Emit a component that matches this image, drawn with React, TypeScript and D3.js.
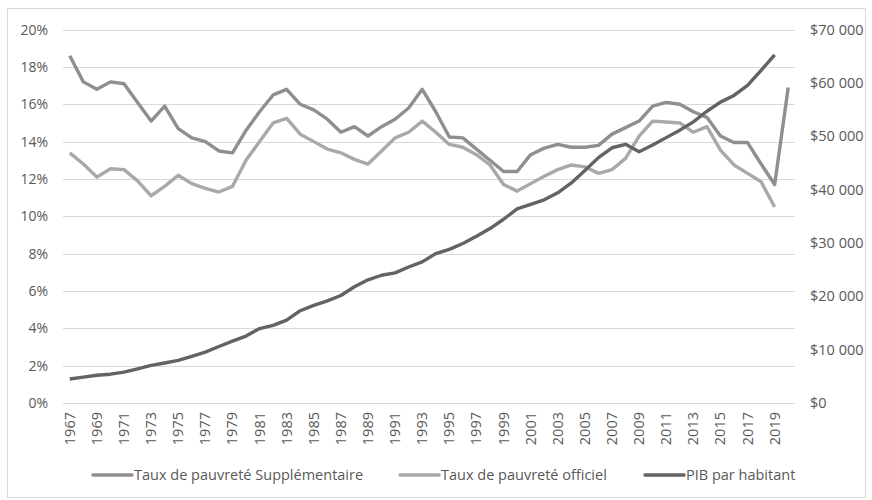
import * as d3 from "d3";
import { useEffect, useRef } from "react";

const years = d3.range(1967, 2021);

// Taux de pauvreté Supplémentaire (%)
const supplementaire = [
  18.6, 17.2, 16.8, 17.2, 17.1, 16.1, 15.1, 15.9, 14.7, 14.2,
  14.0, 13.5, 13.4, 14.6, 15.6, 16.5, 16.8, 16.0, 15.7, 15.2,
  14.5, 14.8, 14.3, 14.8, 15.2, 15.8, 16.8, 15.6, 14.25, 14.2,
  13.6, 13.0, 12.4, 12.4, 13.3, 13.65, 13.85, 13.7, 13.7, 13.8,
  14.4, 14.75, 15.1, 15.9, 16.1, 16.0, 15.6, 15.3, 14.3, 13.95,
  13.95, 12.8, 11.7, 16.9,
];

// Taux de pauvreté officiel (%)
const officiel = [
  13.4, 12.8, 12.1, 12.55, 12.5, 11.9, 11.1, 11.6, 12.2, 11.75,
  11.5, 11.3, 11.6, 13.0, 14.0, 15.0, 15.25, 14.4, 14.0, 13.6,
  13.4, 13.05, 12.8, 13.5, 14.2, 14.5, 15.1, 14.5, 13.85, 13.7,
  13.3, 12.75, 11.7, 11.35, 11.75, 12.15, 12.5, 12.75, 12.65, 12.3,
  12.5, 13.1, 14.3, 15.1, 15.05, 15.0, 14.5, 14.8, 13.55, 12.75,
  12.3, 11.85, 10.5, null,
];

// PIB par habitant ($)
const pib = [
  4500, 4850, 5200, 5400, 5800, 6400, 7050, 7500, 8000, 8750,
  9550, 10600, 11600, 12550, 13950, 14550, 15550, 17300, 18300, 19150,
  20150, 21800, 23100, 23950, 24400, 25500, 26450, 28000, 28800, 29900,
  31250, 32700, 34450, 36400, 37250, 38100, 39400, 41250, 43600, 46000,
  47850, 48500, 47100, 48350, 49750, 51150, 52700, 54700, 56400, 57650,
  59550, 62350, 65250, null,
];

const leftTicks = [0, 0.02, 0.04, 0.06, 0.08, 0.1, 0.12, 0.14, 0.16, 0.18, 0.2];
const rightTicks = [0, 10000, 20000, 30000, 40000, 50000, 60000, 70000];
const yearLabels = years.filter((y) => (y - 1967) % 2 === 0 && y <= 2019);

const seriesNames = [
  "Taux de pauvreté Supplémentaire",
  "Taux de pauvreté officiel",
  "PIB par habitant",
];

export default function App() {
  const svgRef = useRef<SVGSVGElement | null>(null);

  useEffect(() => {
    if (!svgRef.current) return;
    const width = 872;
    const height = 500;
    const left = 63;
    const right = 795;
    const top = 29.6;
    const bottom = 403;
    const font = "'Open Sans', 'Noto Sans', sans-serif";
    const textColor = "#595959";
    const colors = ["#8f8f8f", "#a9a9a9", "#636363"];

    const svg = d3.select(svgRef.current);
    svg.selectAll("*").remove();

    svg
      .append("rect")
      .attr("x", 7.5)
      .attr("y", 8.5)
      .attr("width", 858)
      .attr("height", 489)
      .attr("fill", "#fff")
      .attr("stroke", "#d9d9d9");

    const x = d3
      .scalePoint<number>()
      .domain(years)
      .range([left, right])
      .padding(0.5);
    const yL = d3.scaleLinear().domain([0, 0.2]).range([bottom, top]);
    const yR = d3.scaleLinear().domain([0, 70000]).range([bottom, top]);

    const fr = d3.formatLocale({
      decimal: ",",
      thousands: " ",
      grouping: [3],
      currency: ["$", ""],
    });
    const fmtMoney = fr.format("$,.0f");
    const fmtPct = d3.format(".0%");

    // quadrillage
    svg
      .append("g")
      .selectAll("line")
      .data(leftTicks)
      .enter()
      .append("line")
      .attr("x1", left)
      .attr("x2", right)
      .attr("y1", (d) => Math.round(yL(d)) + 0.5)
      .attr("y2", (d) => Math.round(yL(d)) + 0.5)
      .attr("stroke", "#d9d9d9")
      .attr("stroke-width", 1);

    // axe gauche
    svg
      .append("g")
      .selectAll("text")
      .data(leftTicks)
      .enter()
      .append("text")
      .attr("x", 48)
      .attr("y", (d) => yL(d))
      .attr("dy", "0.35em")
      .attr("text-anchor", "end")
      .attr("font-family", font)
      .attr("font-size", 14)
      .attr("fill", textColor)
      .text((d) => fmtPct(d));

    // axe droit
    svg
      .append("g")
      .selectAll("text")
      .data(rightTicks)
      .enter()
      .append("text")
      .attr("x", 810)
      .attr("y", (d) => yR(d))
      .attr("dy", "0.35em")
      .attr("font-family", font)
      .attr("font-size", 14.5)
      .attr("fill", textColor)
      .text((d) => fmtMoney(d));

    // années
    svg
      .append("g")
      .selectAll("text")
      .data(yearLabels)
      .enter()
      .append("text")
      .attr(
        "transform",
        (d) => `translate(${(x(d) ?? 0) + 5},${bottom + 9}) rotate(-90)`
      )
      .attr("text-anchor", "end")
      .attr("font-family", font)
      .attr("font-size", 14.5)
      .attr("fill", textColor)
      .text((d) => String(d));

    const pctLine = d3
      .line<number | null>()
      .defined((d) => d != null)
      .x((_, i) => x(years[i]) ?? 0)
      .y((d) => yL((d as number) / 100));
    const moneyLine = d3
      .line<number | null>()
      .defined((d) => d != null)
      .x((_, i) => x(years[i]) ?? 0)
      .y((d) => yR(d as number));

    const g = svg.append("g").attr("fill", "none").attr("stroke-linejoin", "round");
    g.append("path")
      .attr("d", pctLine(supplementaire))
      .attr("stroke", colors[0])
      .attr("stroke-width", 3.4);
    g.append("path")
      .attr("d", pctLine(officiel))
      .attr("stroke", colors[1])
      .attr("stroke-width", 3.4);
    g.append("path")
      .attr("d", moneyLine(pib))
      .attr("stroke", colors[2])
      .attr("stroke-width", 3.4);

    // légende
    const legendX = [93, 400, 645];
    const legend = svg
      .append("g")
      .selectAll("g")
      .data(seriesNames)
      .enter()
      .append("g")
      .attr("transform", (_, i) => `translate(${legendX[i]},475)`);
    legend
      .append("line")
      .attr("x1", 0)
      .attr("x2", 39)
      .attr("stroke", (_, i) => colors[i])
      .attr("stroke-width", 3.5)
      .attr("stroke-linecap", "round");
    legend
      .append("text")
      .attr("x", 41)
      .attr("dy", "0.35em")
      .attr("font-family", font)
      .attr("font-size", 14.5)
      .attr("fill", textColor)
      .text((d) => d);

    svg.attr("width", width).attr("height", height);
  }, []);

  return (
    <div style={{ position: "absolute", left: 0, top: 0 }}>
      <svg ref={svgRef} width={872} height={500} style={{ display: "block" }} />
    </div>
  );
}
